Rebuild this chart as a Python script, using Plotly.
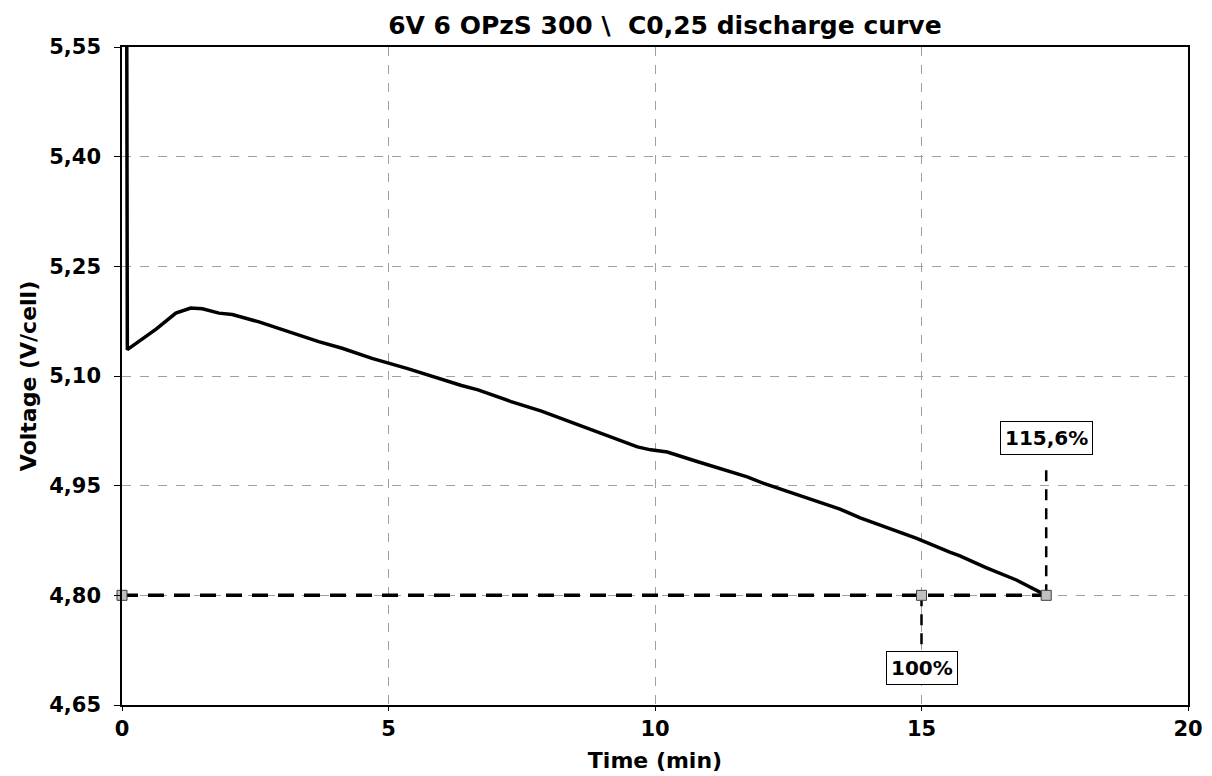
import plotly.graph_objects as go

# Discharge curve data (time in minutes, voltage)
time_min = [0.08, 0.10, 0.64, 1.01, 1.29, 1.51, 1.82, 2.07, 2.57, 3.13, 3.69, 4.13,
            4.69, 5.36, 5.62, 6.37, 6.68, 7.30, 7.87, 8.24, 9.05, 9.67, 9.92, 10.23,
            10.79, 11.73, 12.04, 12.66, 13.47, 13.85, 14.16, 14.91, 15.53, 15.72,
            16.21, 16.78, 17.34]
voltage = [5.95, 5.136, 5.164, 5.186, 5.193, 5.192, 5.186, 5.184, 5.174, 5.160, 5.147,
           5.138, 5.124, 5.110, 5.104, 5.087, 5.081, 5.065, 5.052, 5.042, 5.020, 5.003,
           4.999, 4.996, 4.983, 4.962, 4.953, 4.938, 4.918, 4.906, 4.898, 4.878, 4.859,
           4.854, 4.838, 4.821, 4.800]

# Reference (end voltage) line and capacity markers
end_voltage = 4.80
marker_x = [0, 15, 17.34]
label_100_x = 15
label_100_y = [4.80, 4.73]
label_100_text = "100%"
label_100_pos = 4.70
label_1156_x = 17.34
label_1156_y = [4.80, 4.977]
label_1156_text = "115,6%"
label_1156_pos = 5.015

y_ticks = [4.65, 4.80, 4.95, 5.10, 5.25, 5.40, 5.55]
x_ticks = [0, 5, 10, 15, 20]

FONT = "DejaVu Sans"

fig = go.Figure()

fig.add_trace(go.Scatter(
    x=[marker_x[0], marker_x[-1]], y=[end_voltage, end_voltage], mode="lines",
    line=dict(color="black", width=3.5, dash="16px,10px"), showlegend=False))
fig.add_trace(go.Scatter(
    x=[label_100_x, label_100_x], y=label_100_y, mode="lines",
    line=dict(color="black", width=2.5, dash="11px,8px"), showlegend=False))
fig.add_trace(go.Scatter(
    x=[label_1156_x, label_1156_x], y=label_1156_y, mode="lines",
    line=dict(color="black", width=2.5, dash="11px,8px"), showlegend=False))

fig.add_trace(go.Scatter(
    x=time_min, y=voltage, mode="lines",
    line=dict(color="black", width=3.5), showlegend=False))

fig.add_trace(go.Scatter(
    x=marker_x, y=[end_voltage] * len(marker_x), mode="markers",
    marker=dict(symbol="square", size=10, color="#c0c0c0",
                line=dict(color="#404040", width=1)),
    showlegend=False, cliponaxis=False))

fig.add_annotation(x=label_100_x, y=label_100_pos, text="<b>%s</b>" % label_100_text,
                   showarrow=False, bgcolor="white", bordercolor="black", borderwidth=1,
                   borderpad=4, font=dict(family=FONT, size=20, color="black"))
fig.add_annotation(x=label_1156_x, y=label_1156_pos, text="<b>%s</b>" % label_1156_text,
                   showarrow=False, bgcolor="white", bordercolor="black", borderwidth=1,
                   borderpad=4, font=dict(family=FONT, size=20, color="black"))

fig.update_layout(
    width=1212, height=776,
    margin=dict(l=114, r=32, t=39, b=79),
    paper_bgcolor="white", plot_bgcolor="white",
    separators=", ",
    title=dict(text="<b>6V 6 OPzS 300 \\  C0,25 discharge curve</b>",
               x=0.542, xanchor="center", y=0.978, yanchor="middle",
               font=dict(family=FONT, size=25, color="black")),
    font=dict(family=FONT, color="black"),
)

fig.update_xaxes(
    range=[0, 20], tickvals=x_ticks, ticktext=["<b>%d</b>" % v for v in x_ticks],
    tickfont=dict(family=FONT, size=21, color="black"),
    ticks="outside", ticklen=4, tickcolor="black",
    automargin=False,
    title=dict(text="<b>Time (min)</b>", font=dict(family=FONT, size=22, color="black"),
               standoff=12),
    showline=True, linecolor="black", linewidth=2, mirror=True,
    showgrid=True, gridcolor="#a0a0a0", gridwidth=1, griddash="dash",
    zeroline=False,
)
fig.update_yaxes(
    range=[4.65, 5.55], tickvals=y_ticks,
    ticktext=["<b>%s</b>" % ("%.2f" % v).replace(".", ",") for v in y_ticks],
    tickfont=dict(family=FONT, size=21, color="black"),
    ticklabelstandoff=9,
    automargin=False,
    title=dict(text="<b>Voltage (V/cell)</b>", font=dict(family=FONT, size=22, color="black"),
               standoff=7),
    showline=True, linecolor="black", linewidth=1.5, mirror=True,
    ticks="outside", ticklen=6, tickcolor="black",
    showgrid=True, gridcolor="#a0a0a0", gridwidth=1, griddash="dash",
    zeroline=False,
)

fig.write_html("out.html")
